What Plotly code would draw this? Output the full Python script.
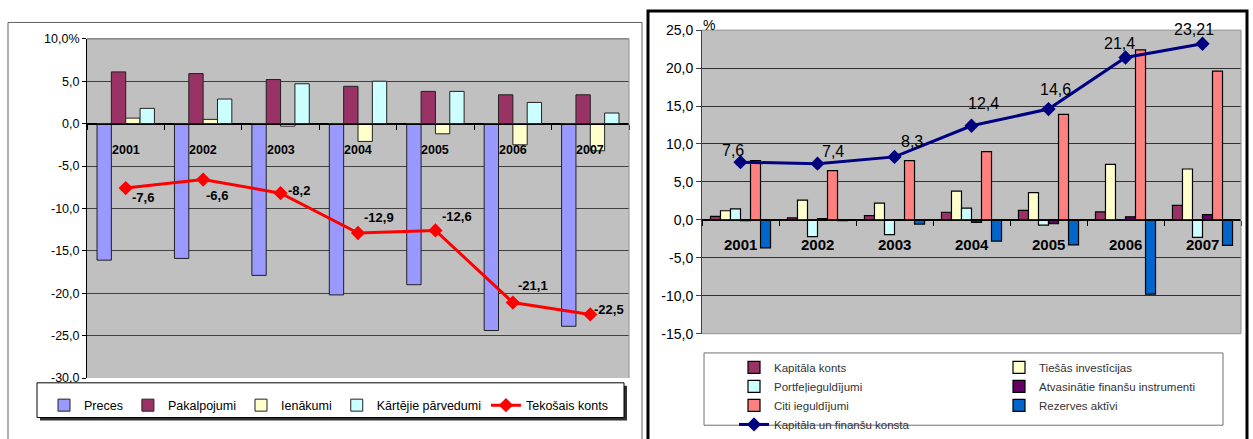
import plotly.graph_objects as go

# ---------------- data ----------------
years = ["2001", "2002", "2003", "2004", "2005", "2006", "2007"]

# current account components, % of GDP
preces = [-16.1, -15.9, -17.9, -20.2, -19.0, -24.4, -23.9]
pakalpojumi = [6.1, 5.9, 5.2, 4.4, 3.8, 3.4, 3.4]
ienakumi = [0.65, 0.5, -0.3, -2.1, -1.2, -2.5, -3.2]
kartejie = [1.8, 2.9, 4.7, 5.0, 3.8, 2.5, 1.25]
tekosais = [-7.6, -6.6, -8.2, -12.9, -12.6, -21.1, -22.5]

# capital and financial account components, % of GDP
kapitala_konts = [0.45, 0.25, 0.55, 1.0, 1.25, 1.05, 1.9]
tiesas = [1.2, 2.6, 2.2, 3.8, 3.6, 7.3, 6.7]
portfelis = [1.45, -2.2, -1.95, 1.55, -0.7, -0.05, -2.3]
atvasinatie = [-0.1, 0.15, -0.05, -0.35, -0.5, 0.4, 0.7]
citi = [7.8, 6.5, 7.8, 9.0, 13.9, 22.4, 19.6]
rezerves = [-3.7, -0.1, -0.55, -2.8, -3.3, -9.8, -3.35]
fin_konts = [7.6, 7.4, 8.3, 12.4, 14.6, 21.4, 23.21]

left_tickvals = [10, 5, 0, -5, -10, -15, -20, -25, -30]
left_ticktext = ["10,0%", "5,0", "0,0", "-5,0", "-10,0", "-15,0", "-20,0", "-25,0", "-30,0"]
right_tickvals = [25, 20, 15, 10, 5, 0, -5, -10, -15]
right_ticktext = ["25,0", "20,0", "15,0", "10,0", "5,0", "0,0", "-5,0", "-10,0", "-15,0"]

# ---------------- layout helpers ----------------
W, H = 1253, 439
FONT = "Liberation Sans, Arial, sans-serif"


def px(x):
    return x / W


def py(y):
    return 1 - y / H


def lbl(v):
    return str(v).replace(".", ",")


# plot rectangles (pixels)
L = dict(x0=87, x1=629, top=32, bot=384, lo=-30, hi=10)
R = dict(x0=702, x1=1241, top=23, bot=338, lo=-15, hi=25)


def zero_pos(p):
    d0, d1 = py(p["bot"]), py(p["top"])
    return d0 + (0 - p["lo"]) / (p["hi"] - p["lo"]) * (d1 - d0)


fig = go.Figure()

# ---------------- left chart: current account ----------------
wl = 0.1853
left_bars = [
    ("Preces", preces, "#9999FF"),
    ("Pakalpojumi", pakalpojumi, "#993366"),
    ("Ienākumi", ienakumi, "#FFFFCC"),
    ("Kārtējie pārvedumi", kartejie, "#CCFFFF"),
]
for i, (name, vals, col) in enumerate(left_bars):
    fig.add_trace(go.Bar(
        x=years, y=vals, name=name, width=wl, offset=(i - 2) * wl,
        marker=dict(color=col, line=dict(color="#202020", width=1)),
        xaxis="x", yaxis="y", legend="legend",
    ))
fig.add_trace(go.Scatter(
    x=years, y=tekosais, name="Tekošais konts", mode="lines+markers",
    line=dict(color="#FF0000", width=3),
    marker=dict(symbol="diamond", size=11, color="#FF0000"),
    xaxis="x", yaxis="y", legend="legend",
))

# ---------------- right chart: capital & financial account ----------------
wr = 0.13
right_bars = [
    ("Kapitāla konts", kapitala_konts, "#993366", "legend2"),
    ("Tiešās investīcijas", tiesas, "#FFFFCC", "legend3"),
    ("Portfeļieguldījumi", portfelis, "#CCFFFF", "legend2"),
    ("Atvasinātie finanšu instrumenti", atvasinatie, "#660066", "legend3"),
    ("Citi ieguldījumi", citi, "#FF8080", "legend2"),
    ("Rezerves aktīvi", rezerves, "#0066CC", "legend3"),
]
for i, (name, vals, col, lg) in enumerate(right_bars):
    fig.add_trace(go.Bar(
        x=years, y=vals, name=name, width=wr, offset=(i - 3) * wr,
        marker=dict(color=col, line=dict(color="#000000", width=1.2)),
        xaxis="x2", yaxis="y2", legend=lg,
    ))
fig.add_trace(go.Scatter(
    x=years, y=fin_konts, name="Kapitāla un finanšu konsta", mode="lines+markers",
    line=dict(color="#000080", width=3),
    marker=dict(symbol="diamond", size=11, color="#000080"),
    xaxis="x2", yaxis="y2", legend="legend2",
))

# ---------------- annotations ----------------
ann = []
left_off = [(17, 9), (14, 16), (18, -3), (21, -16), (22, -14), (20, -17), (19, -5)]
for i, (v, (dx, dy)) in enumerate(zip(tekosais, left_off)):
    ann.append(dict(x=i, y=v, xref="x", yref="y", text=lbl(v), showarrow=False,
                    xanchor="center", yanchor="middle", xshift=dx, yshift=-dy,
                    font=dict(family=FONT, size=13, color="black", weight="bold")))
right_off = [(-8, -12), (15, -12), (17, -15), (12, -22), (7, -20), (-6, -14), (-9, -14)]
for i, (v, (dx, dy)) in enumerate(zip(fin_konts, right_off)):
    ann.append(dict(x=i, y=v, xref="x2", yref="y2", text=lbl(v), showarrow=False,
                    xanchor="center", yanchor="middle", xshift=dx, yshift=-dy,
                    font=dict(family=FONT, size=16, color="black")))
for i, yr in enumerate(years):
    ann.append(dict(x=i, y=0, xref="x", yref="y", text=yr, showarrow=False,
                    xanchor="center", yanchor="middle", yshift=-26,
                    font=dict(family=FONT, size=12.5, color="black", weight="bold")))
    ann.append(dict(x=i, y=0, xref="x2", yref="y2", text=yr, showarrow=False,
                    xanchor="center", yanchor="middle", yshift=-25,
                    font=dict(family=FONT, size=15, color="black", weight="bold")))
ann.append(dict(x=px(709), y=py(18), xref="paper", yref="paper", text="%", showarrow=False,
                xanchor="center", yanchor="middle",
                font=dict(family=FONT, size=14, color="black")))

# ---------------- frames, borders, legend boxes ----------------
def rect(x0, y0, x1, y1, **kw):
    return dict(type="rect", xref="paper", yref="paper",
                x0=px(x0), x1=px(x1), y0=py(y1), y1=py(y0), layer="above", **kw)


def seg(x0, y0, x1, y1, color, width=1):
    return dict(type="line", xref="paper", yref="paper",
                x0=px(x0), x1=px(x1), y0=py(y0), y1=py(y1), layer="above",
                line=dict(color=color, width=width))


shapes = [
    rect(8, 15, 642, 470, line=dict(color="#606060", width=1)),
    rect(648, 3, 1247, 470, line=dict(color="black", width=3)),
    seg(L["x0"], L["top"], L["x1"], L["top"], "#555555"),
    seg(L["x1"], L["top"], L["x1"], L["bot"], "#909090"),
    seg(R["x0"], R["top"], R["x1"], R["top"], "#909090"),
    seg(R["x1"], R["top"], R["x1"], R["bot"], "#909090"),
    seg(R["x0"], R["bot"], R["x1"], R["bot"], "#909090"),
    rect(40, 392, 627, 428, fillcolor="#303030", line=dict(width=0)),
    rect(37, 389, 624, 425, fillcolor="white", line=dict(color="black", width=1)),
    rect(704, 358, 1223, 433, fillcolor="white", line=dict(color="#707070", width=1)),
]

xcommon = dict(type="category", range=[-0.5, 6.5], anchor="free", showline=True,
               linecolor="black", linewidth=1, ticks="outside", ticklen=5,
               tickcolor="black", tickson="boundaries", showticklabels=False,
               showgrid=False, zeroline=False, fixedrange=True)

fig.update_layout(
    width=W, height=H, autosize=False,
    margin=dict(l=0, r=0, t=0, b=0, pad=0),
    paper_bgcolor="white", plot_bgcolor="#C0C0C0",
    barmode="overlay", showlegend=True,
    xaxis=dict(domain=[px(L["x0"]), px(L["x1"])], position=zero_pos(L), **xcommon),
    yaxis=dict(domain=[py(L["bot"]), py(L["top"])], range=[L["lo"], L["hi"]], anchor="x",
               tickvals=left_tickvals, ticktext=left_ticktext, ticks="outside", ticklen=4,
               tickcolor="black", showline=True, linecolor="black", linewidth=1,
               gridcolor="#404040", gridwidth=1, zeroline=True, zerolinecolor="black",
               zerolinewidth=1, tickfont=dict(family=FONT, size=12.5, color="black"),
               fixedrange=True),
    xaxis2=dict(domain=[px(R["x0"]), px(R["x1"])], position=zero_pos(R), **xcommon),
    yaxis2=dict(domain=[py(R["bot"]), py(R["top"])], range=[R["lo"], R["hi"]], anchor="x2",
                tickvals=right_tickvals, ticktext=right_ticktext, ticks="outside", ticklen=5,
                tickcolor="#404040", showline=True, linecolor="#404040", linewidth=1,
                gridcolor="#303030", gridwidth=1, zeroline=True, zerolinecolor="black",
                zerolinewidth=1, tickfont=dict(family=FONT, size=14, color="black"),
                fixedrange=True),
    legend=dict(orientation="h", x=px(44), xanchor="left", y=py(397), yanchor="top",
                bgcolor="rgba(0,0,0,0)", borderwidth=0, traceorder="normal",
                font=dict(family=FONT, size=12.5, color="black")),
    legend2=dict(orientation="v", x=px(734), xanchor="left", y=py(358), yanchor="top",
                 bgcolor="rgba(0,0,0,0)", borderwidth=0, traceorder="normal",
                 font=dict(family=FONT, size=11.5, color="#333333")),
    legend3=dict(orientation="v", x=px(999), xanchor="left", y=py(358), yanchor="top",
                 bgcolor="rgba(0,0,0,0)", borderwidth=0, traceorder="normal",
                 font=dict(family=FONT, size=11.5, color="#333333")),
    annotations=ann,
    shapes=shapes,
)

fig.write_html("out.html", config={"displayModeBar": False})
